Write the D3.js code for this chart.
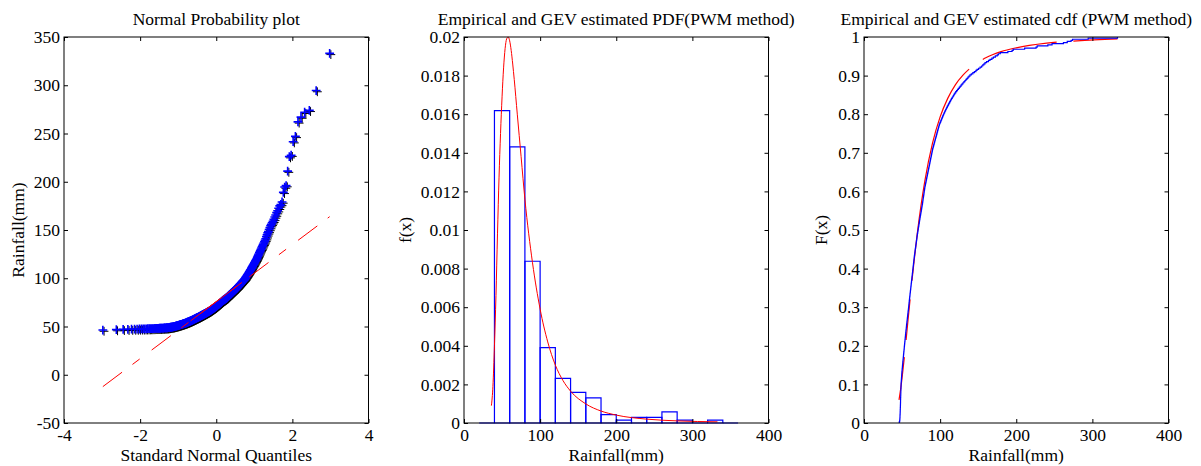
<!DOCTYPE html>
<html>
<head>
<meta charset="utf-8">
<script src="https://cdn.jsdelivr.net/npm/d3@7"></script>
<style>
  body { margin: 0; background: #fff; }
  svg text { font-family: "Liberation Serif", "Times New Roman", serif; font-size: 17.5px; fill: #000; }
</style>
</head>
<body>
<svg id="chart" width="1201" height="466"></svg>
<script>
// sorted rainfall sample (mm) (n = 346)
const rainfall = [
  46.3, 46.8, 47.0, 47.1, 47.2, 47.3, 47.3, 47.4, 47.5, 47.5,
  47.6, 47.6, 47.7, 47.7, 47.8, 47.8, 47.9, 47.9, 48.0, 48.0,
  48.0, 48.1, 48.1, 48.2, 48.2, 48.3, 48.3, 48.4, 48.4, 48.5,
  48.5, 48.6, 48.6, 48.7, 48.7, 48.8, 48.9, 49.0, 49.1, 49.2,
  49.3, 49.4, 49.5, 49.6, 49.7, 49.8, 50.0, 50.1, 50.2, 50.4,
  50.5, 50.6, 50.8, 50.9, 51.0, 51.2, 51.3, 51.5, 51.6, 51.8,
  51.9, 52.0, 52.2, 52.3, 52.5, 52.6, 52.8, 52.9, 53.0, 53.2,
  53.3, 53.5, 53.6, 53.8, 53.9, 54.1, 54.2, 54.4, 54.5, 54.7,
  54.8, 55.0, 55.1, 55.3, 55.5, 55.6, 55.8, 55.9, 56.1, 56.3,
  56.4, 56.6, 56.8, 56.9, 57.1, 57.3, 57.4, 57.6, 57.8, 57.9,
  58.1, 58.3, 58.5, 58.6, 58.8, 58.9, 59.1, 59.2, 59.4, 59.5, 59.7, 59.9,
  60.0, 60.2, 60.4, 60.5, 60.7, 60.9, 61.0, 61.2, 61.4, 61.5,
  61.7, 61.9, 62.0, 62.2, 62.4, 62.5, 62.7, 62.9, 63.0, 63.2,
  63.4, 63.5, 63.7, 63.9, 64.0, 64.2, 64.4, 64.5, 64.7, 64.9,
  65.0, 65.2, 65.4, 65.5, 65.7, 65.9, 66.0, 66.2, 66.4, 66.6,
  66.8, 67.0, 67.2, 67.4, 67.6, 67.8, 68.0, 68.2, 68.4, 68.6,
  68.8, 69.0, 69.2, 69.4, 69.6, 69.8,
  70.0, 70.2, 70.5, 70.7, 70.9, 71.2, 71.4, 71.6, 71.9, 72.1,
  72.3, 72.6, 72.8, 73.0, 73.3, 73.5, 73.8, 74.0, 74.3, 74.5,
  74.8, 75.0, 75.3, 75.5, 75.8, 76.0, 76.3, 76.5, 76.8, 77.0,
  77.2, 77.4, 77.6, 77.8, 78.0, 78.3, 78.5, 78.7, 78.9, 79.1, 79.3, 79.6, 79.8,
  80.0, 80.3, 80.6, 80.9, 81.2, 81.5, 81.8, 82.1, 82.4, 82.7,
  83.0, 83.3, 83.6, 83.9, 84.2, 84.5, 84.8, 85.1, 85.4, 85.7,
  86.0, 86.3, 86.6, 86.9, 87.2, 87.5, 87.8, 88.1, 88.4, 88.7,
  89.0, 89.3, 89.6, 89.9,
  90.2, 90.6, 91.0, 91.4, 91.8, 92.2, 92.6, 93.0, 93.4, 93.8,
  94.2, 94.6, 95.0, 95.4, 95.8, 96.2, 96.6, 97.0, 97.4, 97.8,
  98.2, 98.6, 99.1, 99.6,
  100.3, 100.9, 101.5, 102.1, 102.7, 103.3, 103.9, 104.5, 105.2, 105.9,
  106.6, 107.3, 108.0, 108.7, 109.4, 110.2, 111.0, 111.8, 112.6, 113.4,
  114.2, 115.0, 115.9, 116.8, 117.7, 118.6, 119.5,
  120.5, 121.6, 122.8, 124.0, 125.2, 126.4, 127.6, 128.8, 130.0, 131.3,
  132.6, 133.9, 135.2, 136.5, 137.8, 139.2,
  141.0, 143.0, 145.0, 147.0, 148.5, 150.5, 152.5, 154.5, 156.0, 157.5, 159.0,
  161.0, 163.5, 165.5, 168.0, 170.0, 172.5, 175.0, 176.5, 179.0,
  189.0, 194.5, 196.0,
  211.0,
  226.0, 227.5,
  241.5, 247.0,
  262.0, 267.0, 272.0, 274.0,
  294.5,
  333.0
];

// histogram bin edges (mm)
const binEdges = [20, 40, 60, 80, 100, 120, 140, 160, 180, 200, 220, 240, 260, 280, 300, 320, 340, 360];

// GEV (PWM) fitted pdf
const pdfX = [36, 38, 40, 42, 44, 46, 48, 50, 52, 54, 56, 58, 60, 62, 64, 66, 70, 75, 80, 90, 100, 110, 120, 130, 140, 160, 180, 200, 240, 280, 333];
const pdfY = [0.0009, 0.0019, 0.0040, 0.0066, 0.0098, 0.0127, 0.0150, 0.0169, 0.0184, 0.0194, 0.0199, 0.0200, 0.0198, 0.0193, 0.0186, 0.0178, 0.0160, 0.0138, 0.0116, 0.0083, 0.0059, 0.0042, 0.0030, 0.0022, 0.00165, 0.00099, 0.00062, 0.00041, 0.00020, 0.00011, 0.00006];

// GEV (PWM) fitted cdf
const cdfX = [46, 48, 50, 54, 58, 62, 66, 70, 75, 80, 90, 100, 110, 120, 130, 140, 160, 180, 200, 240, 280, 333];
const cdfY = [0.060, 0.086, 0.117, 0.190, 0.270, 0.349, 0.423, 0.491, 0.565, 0.628, 0.725, 0.793, 0.841, 0.876, 0.901, 0.920, 0.946, 0.962, 0.972, 0.984, 0.990, 0.995];

// tick values
const qqXTicks = [-4, -2, 0, 2, 4];
const qqYTicks = [-50, 0, 50, 100, 150, 200, 250, 300, 350];
const mmTicks = [0, 100, 200, 300, 400];
const pdfYTicks = [0, 0.002, 0.004, 0.006, 0.008, 0.01, 0.012, 0.014, 0.016, 0.018, 0.02];
const cdfYTicks = [0, 0.1, 0.2, 0.3, 0.4, 0.5, 0.6, 0.7, 0.8, 0.9, 1];

const plotTop = 37, plotBottom = 423, pw = 304.5;
const blue = "#0000ff", red = "#ff0000";
// where the dashed GEV cdf line breaks (mm along x)
const cdfGapX = [[53, 55.3], [60.5, 63], [138, 156], [253, 275]];
const svg = d3.select("#chart");

// inverse standard normal cdf (Acklam)
function normInv(p) {
  const a = [-39.69683028665376, 220.9460984245205, -275.9285104469687, 138.3577518672690, -30.66479806614716, 2.506628277459239];
  const b = [-54.47609879822406, 161.5858368580409, -155.6989798598866, 66.80131188771972, -13.28068155288572];
  const c = [-0.007784894002430293, -0.3223964580411365, -2.400758277161838, -2.549732539343734, 4.374664141464968, 2.938163982698783];
  const d = [0.007784695709041462, 0.3224671290700398, 2.445134137142996, 3.754408661907416];
  const pl = 0.02425;
  if (p < pl) {
    const q = Math.sqrt(-2 * Math.log(p));
    return (((((c[0]*q+c[1])*q+c[2])*q+c[3])*q+c[4])*q+c[5]) / ((((d[0]*q+d[1])*q+d[2])*q+d[3])*q+1);
  }
  if (p > 1 - pl) {
    const q = Math.sqrt(-2 * Math.log(1 - p));
    return -(((((c[0]*q+c[1])*q+c[2])*q+c[3])*q+c[4])*q+c[5]) / ((((d[0]*q+d[1])*q+d[2])*q+d[3])*q+1);
  }
  const q = p - 0.5, r = q * q;
  return (((((a[0]*r+a[1])*r+a[2])*r+a[3])*r+a[4])*r+a[5])*q / (((((b[0]*r+b[1])*r+b[2])*r+b[3])*r+b[4])*r+1);
}

function makePanel(left, xDomain, yDomain) {
  const x = d3.scaleLinear().domain(xDomain).range([left, left + pw]);
  const y = d3.scaleLinear().domain(yDomain).range([plotBottom, plotTop]);
  const g = svg.append("g");
  const marks = g.append("g");
  return { left, x, y, g, marks };
}

function drawFrame(p, xTicks, yTicks, title, xLabel, yLabel, yLabelX) {
  const fmt = d => String(d);
  const g = p.g;
  g.append("g").attr("transform", `translate(0,${plotBottom})`)
    .call(d3.axisBottom(p.x).tickValues(xTicks).tickSize(-4).tickPadding(6).tickFormat(fmt));
  g.append("g").attr("transform", `translate(0,${plotTop})`)
    .call(d3.axisTop(p.x).tickValues(xTicks).tickSize(-4).tickFormat(""));
  g.append("g").attr("transform", `translate(${p.left},0)`)
    .call(d3.axisLeft(p.y).tickValues(yTicks).tickSize(-4).tickPadding(4).tickFormat(fmt));
  g.append("g").attr("transform", `translate(${p.left + pw},0)`)
    .call(d3.axisRight(p.y).tickValues(yTicks).tickSize(-4).tickFormat(""));
  g.selectAll(".domain").remove();
  g.selectAll(".tick line").attr("stroke", "#000");

  g.append("rect")
    .attr("x", p.left).attr("y", plotTop)
    .attr("width", pw).attr("height", plotBottom - plotTop)
    .attr("fill", "none").attr("stroke", "#000").attr("stroke-width", 1);

  g.append("text").attr("x", p.left + pw / 2).attr("y", 25)
    .attr("text-anchor", "middle").text(title);
  g.append("text").attr("x", p.left + pw / 2).attr("y", 461)
    .attr("text-anchor", "middle").text(xLabel);
  g.append("text").attr("transform", `translate(${yLabelX},230) rotate(-90)`)
    .attr("text-anchor", "middle").text(yLabel);
}

const n = rainfall.length;

// ---- panel 1: normal probability plot ----
const p1 = makePanel(64, [-4, 4], [-50, 350]);
const qq = rainfall.map((v, i) => ({ z: normInv((i + 0.5) / n), v: v }));
const plus = "M-4.4,0H4.4M0,-4.4V4.4";

// reference line through the quartiles
const q1 = d3.quantile(rainfall, 0.25), q3 = d3.quantile(rainfall, 0.75);
const z1 = normInv(0.25), z3 = normInv(0.75);
const slope = (q3 - q1) / (z3 - z1);
const lineAt = z => q1 + slope * (z - z1);
const zMin = qq[0].z, zMax = qq[n - 1].z;

p1.marks.selectAll("path.shadow").data(qq).enter().append("path")
  .attr("class", "shadow")
  .attr("transform", d => `translate(${p1.x(d.z) + 1.2},${p1.y(d.v) + 1.2})`)
  .attr("d", plus).attr("stroke", "#000").attr("stroke-width", 1).attr("fill", "none");
p1.marks.selectAll("path.pt").data(qq).enter().append("path")
  .attr("class", "pt")
  .attr("transform", d => `translate(${p1.x(d.z)},${p1.y(d.v)})`)
  .attr("d", plus).attr("stroke", blue).attr("stroke-width", 1.6).attr("fill", "none");

p1.marks.append("line")
  .attr("x1", p1.x(zMin)).attr("y1", p1.y(lineAt(zMin)))
  .attr("x2", p1.x(zMax)).attr("y2", p1.y(lineAt(zMax)))
  .attr("stroke", red).attr("stroke-width", 1).attr("stroke-dasharray", "24,13,9,15");
p1.marks.append("line")
  .attr("x1", p1.x(z1)).attr("y1", p1.y(q1))
  .attr("x2", p1.x(z3)).attr("y2", p1.y(q3))
  .attr("stroke", red).attr("stroke-width", 1);

drawFrame(p1, qqXTicks, qqYTicks, "Normal Probability plot", "Standard Normal Quantiles", "Rainfall(mm)", 24);

// ---- panel 2: histogram + GEV pdf ----
const p2 = makePanel(464, [0, 400], [0, 0.02]);
const bins = d3.bin()
  .domain([binEdges[0], binEdges[binEdges.length - 1]])
  .thresholds(binEdges.slice(1, -1))(rainfall);
const binW = binEdges[1] - binEdges[0];

p2.marks.selectAll("path.bar").data(bins).enter().append("path")
  .attr("class", "bar")
  .attr("d", b => {
    const x0 = p2.x(b.x0), x1 = p2.x(b.x1);
    const y0 = p2.y(0), y1 = p2.y(b.length / (n * binW));
    return `M${x0},${y0}V${y1}H${x1}V${y0}Z`;
  })
  .attr("fill", "none").attr("stroke", blue).attr("stroke-width", 1.2);

const pdfLine = d3.line()
  .x((d, i) => p2.x(pdfX[i]))
  .y(d => p2.y(d))
  .curve(d3.curveMonotoneX);
p2.marks.append("path").attr("d", pdfLine(pdfY))
  .attr("fill", "none").attr("stroke", red).attr("stroke-width", 1);

drawFrame(p2, mmTicks, pdfYTicks, "Empirical and GEV estimated PDF(PWM method)", "Rainfall(mm)", "f(x)", 411);

// ---- panel 3: empirical cdf + GEV cdf ----
const p3 = makePanel(864, [0, 400], [0, 1]);
const cdfLine = d3.line()
  .x((d, i) => p3.x(cdfX[i]))
  .y(d => p3.y(d))
  .curve(d3.curveMonotoneX);
const cdfPath = p3.marks.append("path").attr("d", cdfLine(cdfY))
  .attr("fill", "none").attr("stroke", red).attr("stroke-width", 1.2);

// break the red line where the reference shows gaps
const cdfNode = cdfPath.node();
const cdfLen = cdfNode.getTotalLength();
function lengthAtX(px) {
  let lo = 0, hi = cdfLen;
  for (let k = 0; k < 40; k++) {
    const mid = (lo + hi) / 2;
    if (cdfNode.getPointAtLength(mid).x < px) lo = mid; else hi = mid;
  }
  return lo;
}
const dashes = [];
let pos = 0;
cdfGapX.forEach(([a, b]) => {
  const la = lengthAtX(p3.x(a)), lb = lengthAtX(p3.x(b));
  dashes.push(la - pos, lb - la);
  pos = lb;
});
dashes.push(cdfLen - pos + 1, 0);
cdfPath.attr("stroke-dasharray", dashes.map(v => v.toFixed(2)).join(","));

const ecdf = [[rainfall[0], 0]].concat(rainfall.map((v, i) => [v, (i + 1) / n]));
const stairs = d3.line()
  .x(d => p3.x(d[0]))
  .y(d => p3.y(d[1]))
  .curve(d3.curveStepAfter);
p3.marks.append("path").attr("d", stairs(ecdf))
  .attr("fill", "none").attr("stroke", blue).attr("stroke-width", 1.2);

drawFrame(p3, mmTicks, cdfYTicks, "Empirical and GEV estimated cdf (PWM method)", "Rainfall(mm)", "F(x)", 827);
</script>
</body>
</html>
